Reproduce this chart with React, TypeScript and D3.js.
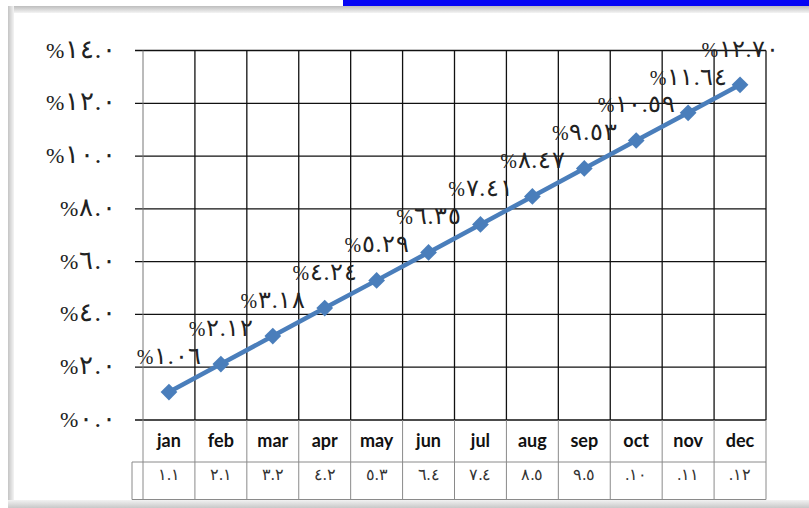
import React from 'react';
import * as d3 from 'd3';

const months = ['jan', 'feb', 'mar', 'apr', 'may', 'jun', 'jul', 'aug', 'sep', 'oct', 'nov', 'dec'];
const values = [1.06, 2.12, 3.18, 4.24, 5.29, 6.35, 7.41, 8.47, 9.53, 10.59, 11.64, 12.7];
const tableRow = ['١.١', '٢.١', '٣.٢', '٤.٢', '٥.٣', '٦.٤', '٧.٤', '٨.٥', '٩.٥', '.١٠', '.١١', '.١٢'];
const yTicks = [0, 2, 4, 6, 8, 10, 12, 14];

const AR = '٠١٢٣٤٥٦٧٨٩';
const toArabic = (s: string) => s.replace(/[0-9]/g, (c) => AR[+c]);

export default function App() {
  const W = 809, H = 508;
  const left = 143, right = 766, top = 50.5, bottom = 420;
  const row1 = 462, row2 = 499.5;
  const x = d3.scaleBand<string>().domain(months).range([left, right]);
  const y = d3.scaleLinear().domain([0, 14]).range([bottom, top]);
  const cx = (m: string) => (x(m) as number) + x.bandwidth() / 2;
  const line = d3.line<number>().x((_, i) => cx(months[i])).y((d) => y(d));
  const diamond = d3.symbol().type(d3.symbolSquare).size(140)();
  const labelFont = '"Liberation Serif", "DejaVu Serif", serif';

  const bounds = [left, ...months.map((m) => (x(m) as number) + x.bandwidth())];

  return (
    <svg width={W} height={H} style={{ position: 'absolute', left: 0, top: 0, background: '#fff' }}>
      <defs>
        <linearGradient id="gl" x1="0" x2="1" y1="0" y2="0">
          <stop offset="0" stopColor="#c4c4c4" />
          <stop offset="1" stopColor="#f4f4f4" />
        </linearGradient>
        <linearGradient id="gt" x1="0" x2="0" y1="0" y2="1">
          <stop offset="0" stopColor="#bdbdbd" />
          <stop offset="1" stopColor="#f4f4f4" />
        </linearGradient>
        <linearGradient id="gb" x1="0" x2="0" y1="0" y2="1">
          <stop offset="0" stopColor="#f2f2f2" />
          <stop offset="1" stopColor="#c8c8c8" />
        </linearGradient>
      </defs>
      {/* frame */}
      <rect x={8} y={6} width={W - 8} height={7} fill="url(#gt)" />
      <rect x={8} y={6} width={6} height={H - 6} fill="url(#gl)" />
      <rect x={8} y={500} width={W - 8} height={8} fill="url(#gb)" />
      <rect x={343} y={0} width={W - 343} height={6} fill="#0606f4" />

      {/* horizontal grid */}
      {yTicks.map((t) => (
        <line key={'h' + t} x1={135} x2={right} y1={y(t)} y2={y(t)} stroke="#111" strokeWidth={1.3} />
      ))}
      {/* vertical grid */}
      {bounds.map((b, i) => (
        <line key={'v' + i} x1={b} x2={b} y1={top} y2={bottom} stroke={i === 0 ? '#777' : '#111'} strokeWidth={i === 0 ? 1 : 1.3} />
      ))}

      {/* table */}
      {bounds.map((b, i) => (
        <line key={'tv' + i} x1={b} x2={b} y1={bottom} y2={row2} stroke="#8a8a8a" strokeWidth={1} />
      ))}
      <line x1={132} x2={132} y1={row1} y2={row2} stroke="#8a8a8a" strokeWidth={1} />
      <line x1={132} x2={right} y1={row1} y2={row1} stroke="#8a8a8a" strokeWidth={1} />
      <line x1={132} x2={right} y1={row2} y2={row2} stroke="#8a8a8a" strokeWidth={1} />
      {months.map((m) => (
        <text key={'c' + m} x={cx(m)} y={447} textAnchor="middle" fontFamily="Lato, 'Open Sans', sans-serif" fontWeight="bold" fontSize={18} fill="#111">
          {m}
        </text>
      ))}
      {months.map((m, i) => (
        <text key={'t' + m} x={cx(m)} y={480} textAnchor="middle" fontFamily={labelFont} fontSize={16} textLength={22} lengthAdjust="spacing" fill="#333">
          {tableRow[i]}
        </text>
      ))}

      {/* y labels */}
      {yTicks.map((t) => {
        const s = toArabic(t.toFixed(1));
        return (
          <text key={'y' + t} x={116} y={y(t) + 7} textAnchor="end" fontFamily={labelFont} textLength={(s.length + 1) * 14} lengthAdjust="spacing" fill="#222">
            <tspan fontSize={22}>%</tspan>
            <tspan fontSize={26}>{s}</tspan>
          </text>
        );
      })}

      {/* series */}
      <path d={line(values) || ''} fill="none" stroke="#4a7ebb" strokeWidth={4.5} />
      {values.map((v, i) => (
        <path key={'m' + i} d={diamond || ''} transform={`translate(${cx(months[i])},${y(v)}) rotate(45)`} fill="#4a7ebb" />
      ))}
      {values.map((v, i) => {
        const s = toArabic(v.toFixed(2));
        return (
          <text key={'l' + i} x={cx(months[i])} y={y(v) - 28} textAnchor="middle" fontFamily={labelFont} textLength={(s.length + 1) * 12.5 + 2} lengthAdjust="spacing" fill="#222">
            <tspan fontSize={20}>%</tspan>
            <tspan fontSize={24}>{s}</tspan>
          </text>
        );
      })}
    </svg>
  );
}
